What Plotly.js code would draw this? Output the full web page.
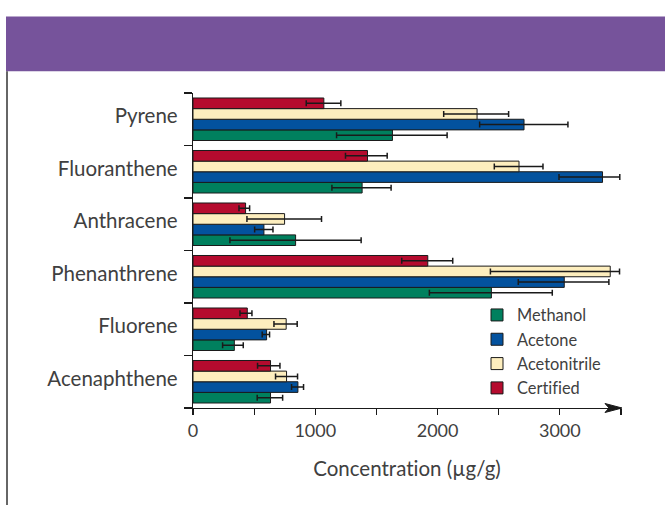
<!DOCTYPE html>
<html>
<head>
<meta charset="utf-8">
<script src="https://cdn.plot.ly/plotly-3.0.1.min.js"></script>
<style>html,body{margin:0;padding:0;background:#fff;}#chart{width:665px;height:505px;}
#chart text{font-variant-ligatures:none;font-feature-settings:"liga" 0, "clig" 0;}</style>
</head>
<body>
<div id="chart"></div>
<script>
// Categories, bottom to top
var categories = ["Acenaphthene", "Fluorene", "Phenanthrene", "Anthracene", "Fluoranthene", "Pyrene"];

// Series values (µg/g)
var methanol      = [634, 338, 2440, 839, 1383, 1631];
var methanolMinus = [109, 96, 507, 537, 247, 457];
var methanolPlus  = [99, 73, 498, 536, 237, 447];

var acetone       = [858, 602, 3036, 580, 3349, 2707];
var acetoneMinus  = [52, 36, 376, 76, 356, 363];
var acetonePlus   = [46, 24, 365, 74, 141, 359];

var acetonitrile      = [765, 762, 3412, 749, 2666, 2323];
var acetonitrileMinus = [90, 100, 980, 308, 202, 273];
var acetonitrilePlus  = [90, 90, 76, 302, 196, 258];

var certified      = [634, 444, 1920, 430, 1427, 1070];
var certifiedMinus = [106, 60, 213, 54, 180, 144];
var certifiedPlus  = [77, 38, 204, 33, 161, 139];

var seriesNames = ["Methanol", "Acetone", "Acetonitrile", "Certified"];
var xTickVals = [0, 1000, 2000, 3000];
var xTickText = ["0", "1000", "2000", "3000"];

var colors = ["#00805e", "#03529e", "#fdeebe", "#b50b2e"];
var values = [methanol, acetone, acetonitrile, certified];
var minus = [methanolMinus, acetoneMinus, acetonitrileMinus, certifiedMinus];
var plus = [methanolPlus, acetonePlus, acetonitrilePlus, certifiedPlus];

var FONT = "Lato, 'Open Sans', sans-serif";
var TXT = "#404040";

var traces = seriesNames.map(function (name, i) {
  return {
    type: "bar",
    orientation: "h",
    name: name,
    y: categories,
    x: values[i],
    marker: {color: colors[i], line: {color: "#1a1a1a", width: 1}},
    error_x: {
      type: "data",
      symmetric: false,
      array: plus[i],
      arrayminus: minus[i],
      color: "#1a1a1a",
      thickness: 1.5,
      width: 3
    },
    hoverinfo: "x+name"
  };
});

// pixel -> paper helpers (plot area: x 193..621, y 92.7..408.5)
var L = 193, R = 621, T = 92.7, B = 408.5;
function px(x) { return (x - L) / (R - L); }
function py(y) { return (B - y) / (B - T); }

var layout = {
  width: 665,
  height: 505,
  margin: {l: L, r: 665 - R, t: T, b: 505 - B},
  paper_bgcolor: "#ffffff",
  plot_bgcolor: "#ffffff",
  barmode: "group",
  bargap: 0.19,
  bargroupgap: 0,
  showlegend: true,
  font: {family: FONT, color: TXT},
  legend: {
    x: px(477), xanchor: "left",
    y: py(298), yanchor: "top",
    bgcolor: "rgba(0,0,0,0)",
    borderwidth: 0,
    font: {family: FONT, size: 16.4, color: TXT},
    traceorder: "normal",
    itemwidth: 30
  },
  xaxis: {
    range: [0, 3500],
    tickvals: xTickVals,
    ticktext: xTickText,
    ticks: "outside",
    ticklen: 6,
    tickwidth: 1.2,
    tickcolor: "#1a1a1a",
    minor: {dtick: 500, tick0: 0, ticks: "outside", ticklen: 6, tickwidth: 1.2, tickcolor: "#1a1a1a"},
    showline: true,
    linecolor: "#1a1a1a",
    linewidth: 1.2,
    showgrid: false,
    zeroline: false,
    tickfont: {family: FONT, size: 18, color: TXT},
    title: {text: "Concentration (µg/g)", font: {family: FONT, size: 20.5, color: TXT}, standoff: 21},
    fixedrange: true
  },
  yaxis: {
    type: "category",
    categoryorder: "array",
    categoryarray: categories,
    range: [-0.5, 5.5],
    tickson: "boundaries",
    ticks: "outside",
    ticklen: 8,
    tickwidth: 1.2,
    tickcolor: "#1a1a1a",
    showline: true,
    linecolor: "#1a1a1a",
    linewidth: 1.2,
    showgrid: false,
    zeroline: false,
    tickfont: {family: FONT, size: 20.5, color: TXT},
    ticklabelstandoff: 10,
    ticklabelshift: -3,
    fixedrange: true
  },
  shapes: [
    // purple banner
    {type: "rect", xref: "paper", yref: "paper",
     x0: px(6), x1: px(666), y0: py(71), y1: py(16),
     fillcolor: "#76539b", line: {width: 0}, layer: "below"},
    // left frame line
    {type: "line", xref: "paper", yref: "paper",
     x0: px(7), x1: px(7), y0: py(71), y1: py(506),
     line: {color: "#333333", width: 1.5}},
    // arrowhead at end of x axis
    {type: "path", xref: "paper", yref: "paper",
     path: "M " + px(605) + "," + py(404) + " L " + px(622) + "," + py(408.5) +
           " L " + px(605) + "," + py(413) + " L " + px(609) + "," + py(408.5) + " Z",
     fillcolor: "#1a1a1a", line: {color: "#1a1a1a", width: 1}}
  ]
};

Plotly.newPlot("chart", traces, layout, {displayModeBar: false, staticPlot: true});
</script>
</body>
</html>
